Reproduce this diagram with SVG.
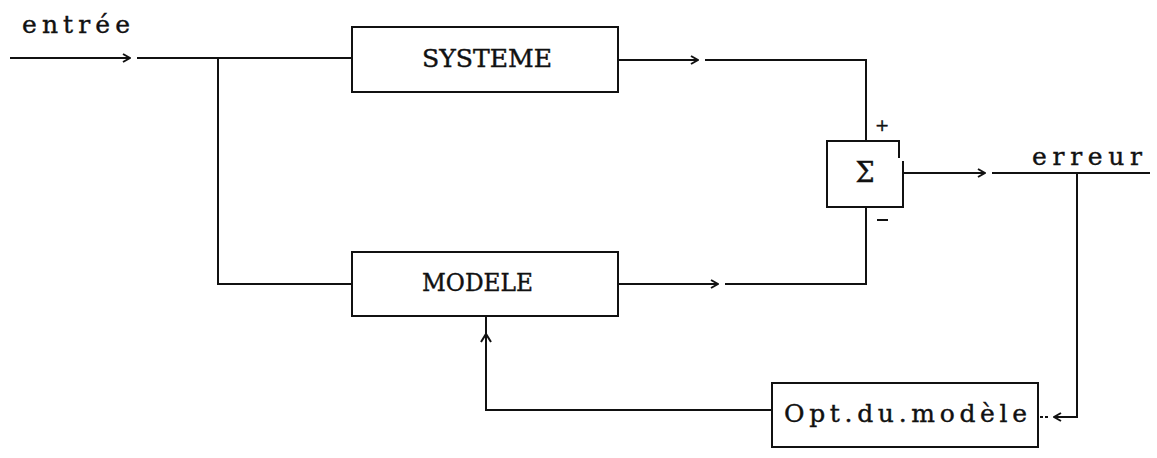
<svg xmlns="http://www.w3.org/2000/svg" width="1157" height="458" viewBox="0 0 1157 458">
<style>
.ln{fill:none;stroke:#111;stroke-width:2;}
.bx{fill:#fff;stroke:#111;stroke-width:2;}
.t{font-family:"DejaVu Serif","Liberation Serif",serif;fill:#111;stroke:#111;stroke-width:0.4;}
</style>
<defs>
<marker id="ah" viewBox="0 0 10 10" refX="9" refY="5" markerWidth="10" markerHeight="10" markerUnits="userSpaceOnUse" orient="auto">
<path d="M2,1 L9,5 L2,9" fill="none" stroke="#111" stroke-width="2"/>
</marker>
</defs>
<rect width="1157" height="458" fill="#fff"/>
<text class="t" x="22" y="33" font-size="25" textLength="108" lengthAdjust="spacing">entrée</text>
<text class="t" x="1032" y="165" font-size="25" textLength="110" lengthAdjust="spacing">erreur</text>
<g id="connectors">
<path class="ln" d="M10,58 H130" marker-end="url(#ah)"/>
<path class="ln" d="M137,58 H352"/>
<path class="ln" d="M218,58 V284 H352"/>
<path class="ln" d="M618,60 H698" marker-end="url(#ah)"/>
<path class="ln" d="M705,60 H866 V141"/>
<path class="ln" d="M618,284 H718" marker-end="url(#ah)"/>
<path class="ln" d="M725,284 H866 V207"/>
<path class="ln" d="M903,173 H985" marker-end="url(#ah)"/>
<path class="ln" d="M992,173 H1150"/>
<path class="ln" d="M1077,173 V417 H1054" marker-end="url(#ah)"/>
<path class="ln" d="M1048,417 H1038" stroke-dasharray="3 2"/>
<path class="ln" d="M772,410 H486 V336"/>
<path class="ln" d="M486,340 V317"/>
<path class="ln" d="M481,342 L486,334 L491,342"/>
</g>
<g id="systeme">
<rect class="bx" x="352" y="27" width="266" height="65"/>
<text class="t" x="422" y="67" font-size="24" textLength="130" lengthAdjust="spacingAndGlyphs">SYSTEME</text>
</g>
<g id="modele">
<rect class="bx" x="352" y="252" width="266" height="64"/>
<text class="t" x="422" y="291" font-size="24" textLength="111" lengthAdjust="spacingAndGlyphs">MODELE</text>
</g>
<g id="sigma">
<path class="bx" d="M899,158 V141 H827 V207 H903 V161"/>
<text class="t" x="865" y="182" font-size="27" text-anchor="middle">Σ</text>
<text class="t" x="882" y="131" font-size="17" text-anchor="middle">+</text>
<path class="ln" d="M877,220 H888"/>
</g>
<g id="opt">
<rect class="bx" x="772" y="383" width="266" height="64"/>
<text class="t" x="784" y="422" font-size="25" textLength="243" lengthAdjust="spacing">Opt.du.modèle</text>
</g>
</svg>
